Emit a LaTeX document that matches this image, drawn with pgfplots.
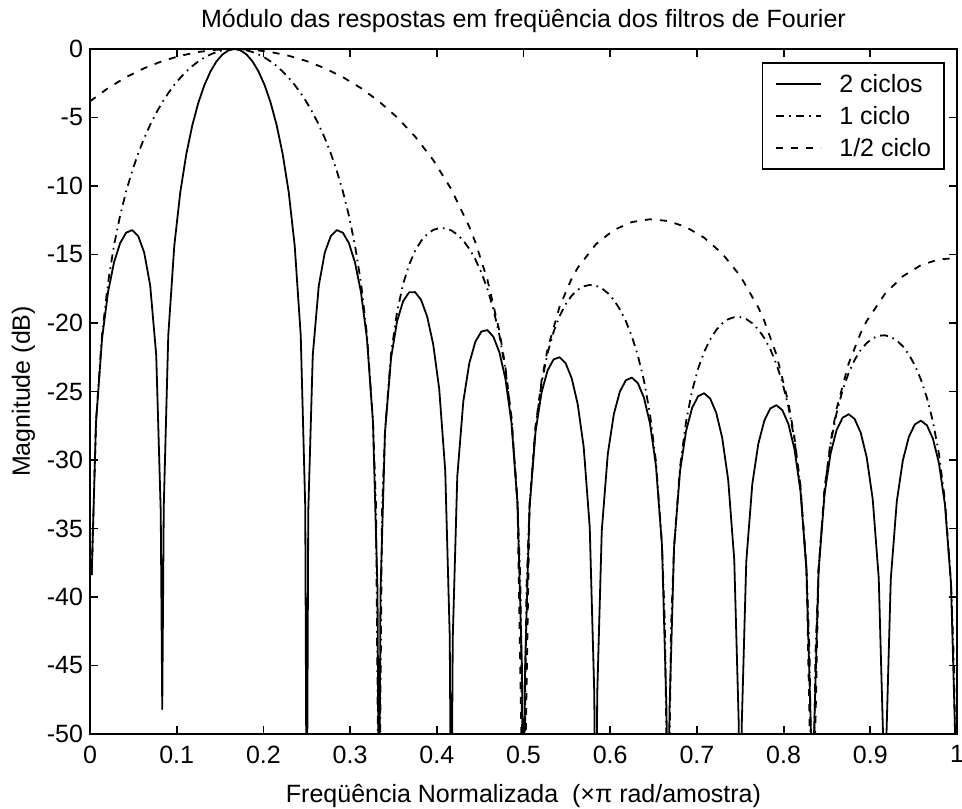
\documentclass[border=0pt]{standalone}
\usepackage{fontspec}
\setmainfont{Liberation Sans}
\usepackage{pgfplots}
\pgfplotsset{compat=1.18}
\begin{document}
\begin{tikzpicture}[font=\fontsize{12.5}{15}\selectfont]
\begin{axis}[
  scale only axis, width=433.5pt, height=342.5pt,
  xmin=0, xmax=1, ymin=-50, ymax=0,
  xtick={0,0.1,0.2,0.3,0.4,0.5,0.6,0.7,0.8,0.9,1},
  xticklabels={0,0.1,0.2,0.3,0.4,0.5,0.6,0.7,0.8,0.9,1},
  ytick={-50,-45,-40,-35,-30,-25,-20,-15,-10,-5,0},
  yticklabels={-50,-45,-40,-35,-30,-25,-20,-15,-10,-5,0},
  tick align=inside, xtick pos=both, ytick pos=both,
  xticklabel pos=lower, yticklabel pos=left,
  major tick length=4pt,
  every tick/.style={black, line width=0.9pt},
  axis line style={line width=0.9pt},
  ticklabel style={font=\fontsize{12.5}{15}\selectfont},
  xticklabel style={yshift=-2.3pt},
  every axis title shift=0pt,
  title={Módulo das respostas em freqüência dos filtros de Fourier},
  title style={at={(0.5,1)}, anchor=base, yshift=10.5pt},
  xlabel={Freqüência Normalizada\ \ (×π rad/amostra)},
  xlabel style={at={(0.5,0)}, anchor=base, yshift=-34pt},
  ylabel={Magnitude (dB)},
  ylabel style={at={(0,0.5)}, anchor=base, yshift=30pt},
  legend cell align=left,
  legend style={at={(1,1)}, anchor=north east, xshift=-6pt, yshift=-6.5pt,
    draw=black, line width=0.9pt, fill=white, inner xsep=6.5pt, inner ysep=6pt,
    row sep=7pt, column sep=8.5pt,
    nodes={inner sep=0pt, text height=9pt, text depth=0pt, font=\fontsize{12.5}{15}\selectfont}},
  legend image code/.code={\draw[#1] (0pt,0pt) -- (22.5pt,0pt);},
  clip=true,
]
\addplot[black, line width=0.9pt, line join=round] coordinates {
(0.00195,-38.4)(0.00694,-27.243)(0.01389,-21.145)(0.02083,-17.738)(0.02778,-15.560)
(0.03472,-14.173)(0.04167,-13.409)(0.04861,-13.220)(0.05556,-13.647)(0.0625,-14.852)
(0.06944,-17.269)(0.07639,-22.349)(0.0816,-33.78)(0.08333,-48.2)(0.08507,-33.42)
(0.09028,-20.907)(0.09722,-14.363)(0.10417,-10.440)(0.11111,-7.659)(0.11806,-5.554)
(0.125,-3.916)(0.13194,-2.636)(0.13889,-1.647)(0.14583,-0.910)(0.15278,-0.400)
(0.15972,-0.099)(0.16667,0)(0.17361,-0.099)(0.18056,-0.400)(0.1875,-0.910)
(0.19444,-1.647)(0.20139,-2.636)(0.20833,-3.916)(0.21528,-5.554)(0.22222,-7.659)
(0.22917,-10.440)(0.23611,-14.363)(0.24306,-20.907)(0.24826,-33.42)(0.25,-60)
(0.25174,-33.78)(0.25694,-22.349)(0.26389,-17.269)(0.27083,-14.852)(0.27778,-13.647)
(0.28472,-13.220)(0.29167,-13.409)(0.29861,-14.173)(0.30556,-15.560)(0.3125,-17.738)
(0.31944,-21.145)(0.32639,-27.243)(0.3316,-39.46)(0.33333,-60)(0.33507,-39.64)
(0.34028,-27.950)(0.34722,-22.563)(0.35417,-19.871)(0.36111,-18.416)(0.36806,-17.763)
(0.375,-17.746)(0.38194,-18.321)(0.38889,-19.534)(0.39583,-21.551)(0.40278,-24.810)
(0.40972,-30.769)(0.41493,-42.89)(0.41667,-60)(0.4184,-43.01)(0.42361,-31.226)
(0.43056,-25.726)(0.4375,-22.927)(0.44444,-21.372)(0.45139,-20.625)(0.45833,-20.518)
(0.46528,-21.009)(0.47222,-22.141)(0.47917,-24.082)(0.48611,-27.268)(0.49306,-33.158)
(0.49826,-45.23)(0.5,-60)(0.50174,-45.31)(0.50694,-33.486)(0.51389,-27.925)
(0.52083,-25.068)(0.52778,-23.458)(0.53472,-22.657)(0.54167,-22.499)(0.54861,-22.940)
(0.55556,-24.025)(0.5625,-25.920)(0.56944,-29.062)(0.57639,-34.908)(0.5816,-46.95)
(0.58333,-60)(0.58507,-47.01)(0.59028,-35.155)(0.59722,-29.556)(0.60417,-26.661)
(0.61111,-25.015)(0.61806,-24.178)(0.625,-23.987)(0.63194,-24.394)(0.63889,-25.447)
(0.64583,-27.310)(0.65278,-30.421)(0.65972,-36.238)(0.66493,-48.26)(0.66667,-60)
(0.6684,-48.31)(0.67361,-36.428)(0.68056,-30.800)(0.6875,-27.879)(0.69444,-26.206)
(0.70139,-25.344)(0.70833,-25.127)(0.71528,-25.510)(0.72222,-26.538)(0.72917,-28.378)
(0.73611,-31.466)(0.74306,-37.260)(0.74826,-49.26)(0.75,-60)(0.75174,-49.30)
(0.75694,-37.406)(0.76389,-31.757)(0.77083,-28.815)(0.77778,-27.121)(0.78472,-26.238)
(0.79167,-26.001)(0.79861,-26.365)(0.80556,-27.374)(0.8125,-29.195)(0.81944,-32.264)
(0.82639,-38.040)(0.8316,-50.03)(0.83333,-60)(0.83507,-50.07)(0.84028,-38.149)
(0.84722,-32.483)(0.85417,-29.523)(0.86111,-27.812)(0.86806,-26.913)(0.875,-26.659)
(0.88194,-27.007)(0.88889,-28.000)(0.89583,-29.804)(0.90278,-32.857)(0.90972,-38.618)
(0.91493,-50.6)(0.91667,-60)(0.9184,-50.6)(0.92361,-38.696)(0.93056,-33.015)
(0.9375,-30.040)(0.94444,-28.314)(0.95139,-27.400)(0.95833,-27.132)(0.96528,-27.465)
(0.97222,-28.443)(0.97917,-30.234)(0.98611,-33.273)(0.99306,-39.019)(0.99826,-50.99)
(1,-60)
};
\addlegendentry{2 ciclos}
\addplot[black, line width=0.9pt, line join=round, dash pattern=on 4pt off 2.5pt on 0.8pt off 2.5pt] coordinates {
(0.00195,-38.4)(0.00694,-27.168)(0.01389,-20.844)(0.02083,-17.050)(0.02778,-14.311)
(0.03472,-12.163)(0.04167,-10.398)(0.04861,-8.909)(0.05556,-7.626)(0.0625,-6.510)
(0.06944,-5.529)(0.07639,-4.664)(0.08333,-3.898)(0.09028,-3.221)(0.09722,-2.623)
(0.10417,-2.098)(0.11111,-1.639)(0.11806,-1.243)(0.125,-0.906)(0.13194,-0.625)
(0.13889,-0.398)(0.14583,-0.223)(0.15278,-0.099)(0.15972,-0.025)(0.16667,0)
(0.17361,-0.025)(0.18056,-0.099)(0.1875,-0.223)(0.19444,-0.398)(0.20139,-0.625)
(0.20833,-0.906)(0.21528,-1.243)(0.22222,-1.639)(0.22917,-2.098)(0.23611,-2.623)
(0.24306,-3.221)(0.25,-3.898)(0.25694,-4.664)(0.26389,-5.529)(0.27083,-6.510)
(0.27778,-7.626)(0.28472,-8.909)(0.29167,-10.398)(0.29861,-12.163)(0.30556,-14.311)
(0.3125,-17.050)(0.31944,-20.844)(0.32639,-27.168)(0.32986,-33.35)(0.33333,-60)
(0.33681,-33.71)(0.34028,-27.876)(0.34722,-22.262)(0.35417,-19.183)(0.36111,-17.168)
(0.36806,-15.752)(0.375,-14.736)(0.38194,-14.011)(0.38889,-13.514)(0.39583,-13.209)
(0.40278,-13.069)(0.40972,-13.083)(0.41667,-13.241)(0.42361,-13.541)(0.43056,-13.985)
(0.4375,-14.585)(0.44444,-15.352)(0.45139,-16.314)(0.45833,-17.508)(0.46528,-18.998)
(0.47222,-20.893)(0.47917,-23.394)(0.48611,-26.966)(0.49306,-33.083)(0.49653,-39.17)
(0.5,-60)(0.50347,-39.33)(0.50694,-33.411)(0.51389,-27.623)(0.52083,-24.380)
(0.52778,-22.209)(0.53472,-20.646)(0.54167,-19.489)(0.54861,-18.630)(0.55556,-18.005)
(0.5625,-17.577)(0.56944,-17.321)(0.57639,-17.223)(0.58333,-17.273)(0.59028,-17.470)
(0.59722,-17.815)(0.60417,-18.319)(0.61111,-18.994)(0.61806,-19.868)(0.625,-20.976)
(0.63194,-22.384)(0.63889,-24.198)(0.64583,-26.623)(0.65278,-30.120)(0.65972,-36.164)
(0.66319,-42.21)(0.66667,-60)(0.67014,-42.31)(0.67361,-36.353)(0.68056,-30.499)
(0.6875,-27.192)(0.69444,-24.957)(0.70139,-23.333)(0.70833,-22.116)(0.71528,-21.199)
(0.72222,-20.518)(0.72917,-20.036)(0.73611,-19.725)(0.74306,-19.575)(0.75,-19.573)
(0.75694,-19.720)(0.76389,-20.016)(0.77083,-20.472)(0.77778,-21.100)(0.78472,-21.928)
(0.79167,-22.991)(0.79861,-24.354)(0.80556,-26.126)(0.8125,-28.507)(0.81944,-31.962)
(0.82639,-37.965)(0.82986,-43.99)(0.83333,-60)(0.83681,-44.05)(0.84028,-38.075)
(0.84722,-32.181)(0.85417,-28.836)(0.86111,-26.564)(0.86806,-24.902)(0.875,-23.649)
(0.88194,-22.696)(0.88889,-21.979)(0.89583,-21.462)(0.90278,-21.117)(0.90972,-20.932)
(0.91667,-20.897)(0.92361,-21.011)(0.93056,-21.274)(0.9375,-21.698)(0.94444,-22.294)
(0.95139,-23.090)(0.95833,-24.122)(0.96528,-25.454)(0.97222,-27.195)(0.97917,-29.546)
(0.98611,-32.972)(0.99306,-38.945)(0.99653,-44.96)(1,-60)
};
\addlegendentry{1 ciclo}
\addplot[black, line width=0.9pt, line join=round, dash pattern=on 3.5pt off 4pt] coordinates {
(0,-3.823)(0.02083,-2.855)(0.04167,-2.056)(0.0625,-1.404)(0.08333,-0.887)
(0.10417,-0.494)(0.125,-0.218)(0.14583,-0.055)(0.16667,0)(0.1875,-0.055)
(0.20833,-0.218)(0.22917,-0.494)(0.25,-0.887)(0.27083,-1.404)(0.29167,-2.056)
(0.3125,-2.855)(0.33333,-3.823)(0.35417,-4.988)(0.375,-6.393)(0.39583,-8.103)
(0.41667,-10.230)(0.4375,-12.981)(0.44444,-14.103)(0.45833,-16.820)(0.47222,-20.591)
(0.47917,-23.227)(0.48611,-26.892)(0.49306,-33.064)(0.5,-60)(0.50694,-33.393)
(0.51389,-27.549)(0.52083,-24.213)(0.52778,-21.907)(0.54167,-18.801)(0.55556,-16.756)
(0.5625,-15.974)(0.58333,-14.262)(0.60417,-13.213)(0.625,-12.633)(0.64583,-12.428)
(0.66667,-12.553)(0.6875,-12.996)(0.70833,-13.774)(0.72917,-14.930)(0.75,-16.563)
(0.77083,-18.868)(0.77778,-19.852)(0.79167,-22.303)(0.80556,-25.824)(0.8125,-28.340)
(0.81944,-31.888)(0.82639,-37.947)(0.83333,-60)(0.84028,-38.056)(0.84722,-32.107)
(0.85417,-28.668)(0.86111,-26.262)(0.875,-22.961)(0.88889,-20.730)(0.89583,-19.858)
(0.91667,-17.886)(0.9375,-16.592)(0.95833,-15.779)(0.97917,-15.351)(1,-15.264)
};
\addlegendentry{1/2 ciclo\hspace{7.6pt}}
\coordinate (bl) at (rel axis cs:0,0);
\coordinate (tr) at (rel axis cs:1,1);
\end{axis}
\pgfresetboundingbox
\path[use as bounding box] ([shift={(-45pt,-37pt)}]bl) rectangle ([shift={(2.5pt,24.5pt)}]tr);
\end{tikzpicture}
\end{document}
